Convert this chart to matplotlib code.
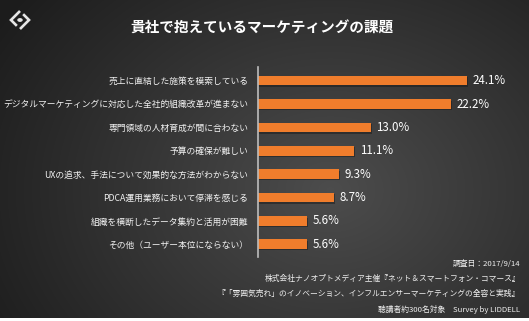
import numpy as np
import matplotlib
matplotlib.use("Agg")
import matplotlib.pyplot as plt
from matplotlib.lines import Line2D
from matplotlib.patches import Circle

plt.rcParams['font.family'] = ['Noto Sans CJK JP', 'DejaVu Sans']

title = "貴社で抱えているマーケティングの課題"
categories = [
    "売上に直結した施策を模索している",
    "デジタルマーケティングに対応した全社的組織改革が進まない",
    "専門領域の人材育成が間に合わない",
    "予算の確保が難しい",
    "UXの追求、手法について効果的な方法がわからない",
    "PDCA運用業務において停滞を感じる",
    "組織を横断したデータ集約と活用が困難",
    "その他（ユーザー本位にならない）",
]
values = [24.1, 22.2, 13.0, 11.1, 9.3, 8.7, 5.6, 5.6]
value_labels = ["24.1%", "22.2%", "13.0%", "11.1%", "9.3%", "8.7%", "5.6%", "5.6%"]
footer_lines = [
    "調査日：2017/9/14",
    "株式会社ナノオプトメディア主催『ネット＆スマートフォン・コマース』",
    "『「雰囲気売れ」のイノベーション、インフルエンサーマーケティングの全容と実践』",
    "聴講者約300名対象　Survey by LIDDELL",
]

W, H = 529, 321
fig = plt.figure(figsize=(W / 100, H / 100), dpi=100)
fig.patch.set_facecolor("white")

# background gradient
bg = fig.add_axes([0, 3 / H, 1, 1 - 3 / H])
bg.set_axis_off()
yy, xx = np.mgrid[0:318, 0:529]
cx, cy = 330, 190
r = np.sqrt(((xx - cx) / 330.0) ** 2 + ((yy - cy) / 260.0) ** 2)
lv = 0.30 - 0.19 * np.clip(r, 0, 1.2) / 1.2
img = np.dstack([lv, lv, lv])
bg.imshow(img, aspect="auto", extent=[0, 1, 0, 1], origin="upper")
bg.set_xlim(0, 1)
bg.set_ylim(0, 1)

def fx(px):
    return px / W

def fy(py):
    return 1 - py / H

# title
fig.text(fx(262), fy(28), title, color="white", fontsize=10.5, fontweight="bold",
         ha="center", va="center")

# logo
c = "#e6e6e6"
T, R, B, L = (20, 11), (29, 20), (20, 29), (11, 20)
pA = [T, L, (L[0] + 0.65 * (B[0] - L[0]), L[1] + 0.65 * (B[1] - L[1]))]
pB = [(T[0] + 0.35 * (R[0] - T[0]), T[1] + 0.35 * (R[1] - T[1])), R, B]
for pts in (pA, pB):
    fig.add_artist(Line2D([fx(p[0]) for p in pts], [fy(p[1]) for p in pts],
                          color=c, lw=1.9, solid_capstyle="butt", solid_joinstyle="miter",
                          transform=fig.transFigure))
fig.add_artist(Circle((fx(20), fy(20)), 2.0 / W, color=c, transform=fig.transFigure))

# main axes
x0, x1 = 258, 520
yt, yb = 67, 257
ax = fig.add_axes([fx(x0), fy(yb), (x1 - x0) / W, (yb - yt) / H])
ax.patch.set_alpha(0)
pxper = 8.68
ax.set_xlim(0, (x1 - x0) / pxper)
sp = 23.37
c0 = 80.7
ax.set_ylim((yb - c0) / sp, (yt - c0) / sp)
ypos = np.arange(len(values))
# shadow
ax.barh(ypos + 0.06, values, height=0.41, color="#1a1a1a", alpha=0.5, left=0.12)
ax.barh(ypos, values, height=0.41, color="#F07D2C")
for y, v, lab in zip(ypos, values, value_labels):
    ax.text(v + 0.65, y, lab, color="white", fontsize=8.3, va="center", ha="left")
ax.set_yticks(ypos)
ax.set_yticklabels(categories, color="#f2f2f2", fontsize=6.3)
ax.tick_params(axis="y", length=0, pad=7)
ax.set_xticks([])
for s in ("top", "right", "bottom"):
    ax.spines[s].set_visible(False)
ax.spines["left"].set_color("#bdbdbd")
ax.spines["left"].set_linewidth(1.2)

# footer
fy_pos = [264, 279, 294, 309]
for t, p in zip(footer_lines, fy_pos):
    fig.text(fx(520), fy(p), t, color="#f0f0f0", fontsize=5.6, ha="right", va="center")

fig.savefig("out.png", dpi=100, facecolor=fig.get_facecolor())
